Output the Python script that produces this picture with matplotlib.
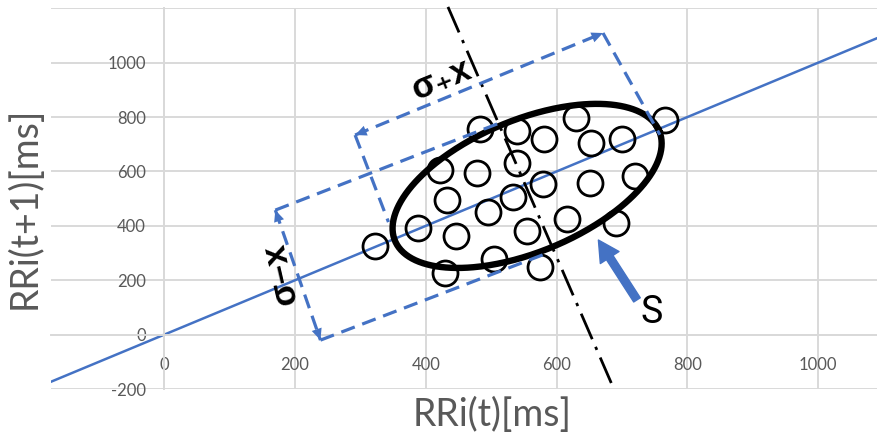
import numpy as np
import matplotlib
matplotlib.use('Agg')
import matplotlib.pyplot as plt

# Puntos del diagrama de Poincare (ms)
rr_t = [323, 388, 430, 447, 422, 433, 483, 479, 495, 505, 540, 540, 534,
        555, 581, 580, 575, 616, 630, 653, 651, 691, 700, 720, 766]
rr_t1 = [326, 392, 227, 363, 606, 495, 756, 595, 452, 278, 749, 631, 506,
         381, 720, 554, 249, 425, 797, 705, 558, 411, 720, 583, 789]

x_ticks = [0, 200, 400, 600, 800, 1000]
y_ticks = [-200, 0, 200, 400, 600, 800, 1000, 1200]
y_tick_labels = ['-200', '0', '200', '400', '600', '800', '1000', '']

# Elipse S (centro y semiejes, en ms)
elipse_centro = (555, 547)
elipse_eje_mayor = (202, 202)
elipse_eje_menor = (39, -224)

# Eje corto (linea punto-raya)
eje_corto = [(434, 1205), (685, -185)]

# Cotas sigma (lineas discontinuas)
cota_menos = [(170, 458), (239, -20)]
tangente_sup = [(170, 458), (517, 782)]
tangente_inf = [(239, -20), (586, 300)]
cota_mas = [(292, 734), (671, 1109)]
extremo_izq = [(292, 734), (343, 414)]
extremo_der = [(671, 1109), (758, 735)]

flecha_s = [(723, 128), (664, 348)]
pos_s = (745, 80)
pos_sigma_mas = (425, 936)
pos_sigma_menos = (178, 223)

azul = '#4472C4'
gris_texto = '#595959'
gris_rejilla = '#D9D9D9'

fig = plt.figure(figsize=(8.77, 4.36), dpi=100)
ax = fig.add_axes([0.05815, 0.1076, 0.94185, 0.8734])
ax.set_xlim(-173, 1090)
ax.set_ylim(-200, 1200)

# Rejilla y ejes al estilo Excel (ejes cruzando en 0)
ax.set_xticks(x_ticks)
ax.set_yticks(y_ticks)
ax.set_yticklabels(y_tick_labels)
ax.grid(True, color=gris_rejilla, lw=1.4)
ax.set_axisbelow(True)
for lado in ['top', 'right']:
    ax.spines[lado].set_visible(False)
ax.spines['left'].set_position(('data', 0))
ax.spines['bottom'].set_position(('data', 0))
for lado in ['left', 'bottom']:
    ax.spines[lado].set_color(gris_rejilla)
    ax.spines[lado].set_linewidth(1.4)
ax.tick_params(axis='both', length=0, labelsize=12, labelcolor=gris_texto)
ax.tick_params(axis='x', pad=16)
ax.tick_params(axis='y', pad=13)
for lbl in ax.get_xticklabels() + ax.get_yticklabels():
    lbl.set_family('Lato')

# Recta identidad
ax.axline((0, 0), slope=1, color=azul, lw=1.8, zorder=2)

# Puntos RR
ax.plot(rr_t, rr_t1, 'o', ms=18, mfc='none', mec='black', mew=2.0, zorder=3)

# Elipse
t = np.linspace(0, 2 * np.pi, 400)
ex = elipse_centro[0] + np.cos(t) * elipse_eje_mayor[0] + np.sin(t) * elipse_eje_menor[0]
ey = elipse_centro[1] + np.cos(t) * elipse_eje_mayor[1] + np.sin(t) * elipse_eje_menor[1]
ax.plot(ex, ey, color='black', lw=4.6, zorder=4)

# Eje corto punto-raya
ax.plot([p[0] for p in eje_corto], [p[1] for p in eje_corto], color='black',
        lw=2.0, ls=(0, (10, 3, 1.2, 3)), zorder=4, clip_on=False)

# Lineas discontinuas azules
for seg in [cota_menos, tangente_sup, tangente_inf, cota_mas, extremo_izq, extremo_der]:
    ax.plot([p[0] for p in seg], [p[1] for p in seg], color=azul, lw=2.3,
            ls=(0, (4.5, 2.5)), zorder=5, clip_on=False)

# Puntas de flecha de las cotas
for seg in [cota_menos, cota_mas]:
    for a, b in [(seg[0], seg[1]), (seg[1], seg[0])]:
        ax.annotate('', xy=a, xytext=b,
                    arrowprops=dict(arrowstyle='-|>,head_length=0.55,head_width=0.25',
                                    color=azul, lw=0, shrinkA=0, shrinkB=0,
                                    mutation_scale=15), zorder=6)

# Flecha S
ax.annotate('', xy=flecha_s[1], xytext=flecha_s[0],
            arrowprops=dict(arrowstyle='simple,head_length=0.75,head_width=0.8,tail_width=0.28',
                            color=azul, shrinkA=0, shrinkB=0, mutation_scale=20), zorder=6)
ax.text(pos_s[0], pos_s[1], 'S', fontsize=27, family='Roboto', color='black',
        ha='center', va='center', zorder=7)

# Etiquetas sigma
ax.text(pos_sigma_mas[0], pos_sigma_mas[1], 'σ\u208Ax', fontsize=25, fontweight='bold',
        family=['Liberation Sans', 'DejaVu Sans'], rotation=22, rotation_mode='anchor',
        ha='center', va='center', zorder=7)
ax.text(pos_sigma_menos[0], pos_sigma_menos[1], 'σ\u2013x', fontsize=25, fontweight='bold',
        family=['Liberation Sans', 'DejaVu Sans'], rotation=103, rotation_mode='anchor',
        ha='center', va='center', zorder=7)

# Titulos de ejes
fig.text(492 / 877, 1 - 415 / 436, 'RRi(t)[ms]', fontsize=27, family='Lato',
         color=gris_texto, ha='center', va='center')
fig.text(25 / 877, 1 - 208 / 436, 'RRi(t+1)[ms]', fontsize=27, family='Lato',
         color=gris_texto, ha='center', va='center', rotation=90)

fig.savefig('out.png', dpi=100)
